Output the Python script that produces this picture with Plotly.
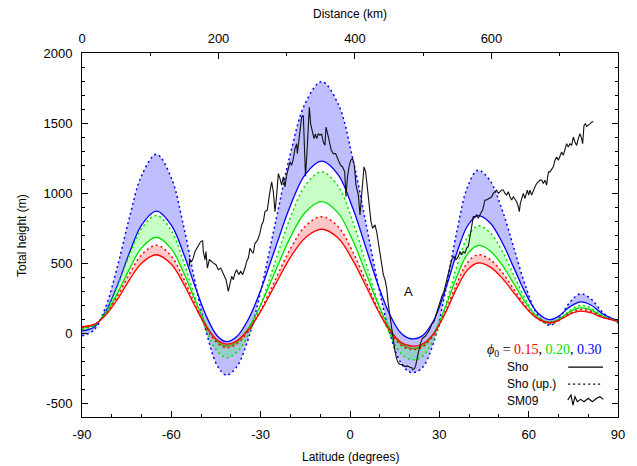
import plotly.graph_objects as go

# ---------------- data ----------------
lat = [-90, -86, -82, -78, -74, -70, -65, -60, -56, -52, -48, -44.5, -41.5, -38, -34, -30, -25, -20, -15, -9.5,
       -4, 1, 5.5, 9.5, 13, 17, 20.5, 24, 28, 32, 36, 39.5, 43, 47, 51, 55, 59, 63, 67, 70, 74, 77.5, 81, 85, 90]

sho_015 = [45, 61, 128, 244, 382, 499, 559, 491, 356, 189, 37, -52, -79, -55, 27, 155, 349, 540, 681, 741,
           678, 517, 328, 157, 31, -65, -93, -82, -8, 142, 326, 451, 500, 472, 394, 288, 181, 103, 75, 90, 136, 156, 143, 109, 85]
up_015 = [40, 58, 135, 268, 424, 558, 627, 549, 394, 202, 28, -74, -105, -78, 16, 162, 384, 602, 763, 831,
          759, 577, 362, 167, 24, -85, -117, -104, -20, 151, 360, 504, 559, 526, 436, 314, 191, 101, 68, 87, 143, 168, 153, 112, 83]
sho_020 = [35, 55, 139, 287, 460, 608, 684, 601, 437, 233, 48, -60, -93, -63, 40, 201, 445, 685, 863, 938,
           858, 657, 419, 204, 46, -74, -110, -96, -4, 182, 409, 565, 625, 588, 488, 352, 215, 115, 78, 97, 155, 180, 163, 118, 85]
up_020 = [25, 50, 156, 341, 559, 745, 840, 731, 517, 251, 9, -133, -176, -138, -5, 202, 517, 826, 1054, 1151,
          1049, 792, 487, 212, 10, -144, -190, -172, -52, 189, 484, 687, 765, 718, 589, 414, 238, 109, 62, 88, 164, 198, 177, 121, 80]
sho_030 = [15, 42, 153, 347, 576, 771, 871, 771, 574, 330, 108, -23, -62, -25, 104, 305, 611, 911, 1133, 1227,
           1131, 887, 599, 339, 148, 2, -41, -24, 86, 308, 580, 766, 838, 788, 652, 467, 281, 145, 95, 119, 190, 222, 198, 134, 88]
up_030 = [-20, 20, 189, 483, 829, 1124, 1276, 1107, 775, 361, -14, -235, -301, -240, -31, 296, 793, 1281, 1642, 1795,
          1637, 1238, 767, 341, 27, -211, -282, -255, -74, 292, 738, 1045, 1163, 1089, 886, 609, 332, 129, 55, 98, 224, 280, 242, 144, 72]

sm09_lat = [-53.95, -53.85, -53.4, -52.84, -52.05, -50.93, -50.15, -49.48, -49.26, -48.70, -48.36, -47.91, -47.24, -46.46,
            -45.90, -45.00, -44.22, -43.43, -42.54, -41.64, -40.86, -40.30, -39.74, -39.18, -38.62, -38.06, -37.39,
            -36.72, -36.05, -35.27, -34.70, -34.14, -33.58, -33.03, -32.47, -31.91, -31.35, -30.79, -30.23, -29.67,
            -29.11, -28.55, -27.77, -27.09, -26.31, -25.75, -25.19, -24.63, -24.07, -23.51, -22.95, -22.39, -21.83,
            -21.27, -20.71, -20.15, -19.59, -19.03, -18.47, -17.91, -17.69, -17.35, -16.79, -16.24, -15.68, -15.34,
            -14.95, -14.44, -13.99, -13.66, -13.21, -12.54, -12.09, -11.64, -11.20, -10.64, -10.08, -9.52, -8.96,
            -8.40, -8.06, -7.50, -6.94, -6.27, -5.60, -4.82, -3.92, -3.14, -2.47, -1.79, -1.35, -0.90, -0.34, 0.22,
            0.89, 1.45, 2.01, 2.80, 3.36, 3.80, 4.25, 4.70, 5.26, 5.93, 6.49, 7.05, 7.61, 8.39, 8.95, 9.51, 10.07,
            10.63, 11.19, 11.75, 12.31, 12.87, 13.43, 13.99, 14.55, 15.11, 15.67, 16.23, 16.79, 17.68, 18.47, 19.25,
            20.15, 20.71, 21.04, 21.60, 22.05, 22.38, 22.94, 23.73, 24.40, 25.18, 25.74, 26.64, 27.42, 28.20, 29.10,
            30.0, 30.8, 31.6, 32.5, 33.4, 34.14, 34.92, 35.59, 36.38, 36.94, 37.50, 38.06, 38.62, 39.17, 39.73,
            40.07, 40.52, 40.97, 41.41, 41.97, 42.53, 43.09, 43.43, 43.88, 44.55, 45.00, 45.33, 45.89, 46.79, 47.57,
            48.13, 48.69, 49.25, 49.81, 50.37, 50.93, 51.49, 52.05, 52.61, 53.17, 53.73, 54.29, 54.85, 55.41, 55.96,
            56.52, 56.86, 57.20, 57.64, 58.20, 58.76, 59.10, 59.55, 60.00, 60.44, 61.00, 61.56, 62.12, 62.68, 63.24,
            63.80, 64.36, 64.92, 65.48, 66.04, 66.37, 66.71, 67.16, 67.72, 68.28, 68.84, 69.40, 69.96, 70.52, 71.08,
            71.64, 72.19, 72.75, 73.31, 73.87, 74.43, 74.99, 75.55, 76.11, 76.67, 77.23, 77.79, 78.13, 78.58, 79.02,
            79.47, 80.03, 80.59, 81.15, 81.71]
sm09_h = [475, 530, 505, 523, 582, 630, 653, 658, 582, 523, 582, 464, 523, 511,
          499, 488, 452, 464, 417, 381, 298, 346, 405, 381, 428, 452, 417,
          440, 417, 464, 511, 535, 606, 582, 570, 642, 653, 677, 713, 772,
          796, 867, 878, 985, 1080, 1009, 867, 985, 1139, 1103, 1056, 1115, 1044,
          1127, 1186, 1222, 1198, 1246, 1317, 1352, 1281, 1340, 1435, 1542, 1554, 1388,
          1120, 1293, 1554, 1613, 1494, 1412, 1388, 1423, 1388, 1423, 1412, 1423, 1364,
          1341, 1471, 1423, 1364, 1305, 1281, 1281, 1234, 1198, 1187, 1151, 973, 1104, 1187, 1234,
          1246, 1198, 1056, 985, 843, 961, 1127, 1187, 1151, 1033, 938, 796, 748, 772, 725, 654, 582,
          488, 417, 381, 322, 203, 120, 20, -50, -130, -185, -215, -225, -225, -240, -235,
          -245, -247, -262, -255, -235, -195, -140, -70, -36, -25, -10, 20, 61, 80, 145,
          210, 260, 300, 380, 460, 523, 547, 523, 547, 582, 559, 582, 571, 606, 618,
          665, 736, 784, 831, 831, 843, 819, 836, 855, 878, 926, 950, 950, 961, 973,
          997, 1009, 1021, 997, 1009, 1021, 1021, 997, 985, 1009, 973, 950, 973, 950, 938,
          902, 867, 926, 961, 997, 961, 997, 1021, 985, 1021, 985, 1021, 1044, 1068, 1080,
          1092, 1092, 1068, 1092, 1056, 1115, 1151, 1151, 1175, 1187, 1234, 1258, 1234, 1269, 1293,
          1269, 1317, 1352, 1329, 1352, 1340, 1400, 1364, 1340, 1388, 1423, 1388, 1352, 1483, 1494,
          1475, 1483, 1494, 1506, 1511]

x_ticks = [-90, -60, -30, 0, 30, 60, 90]
y_ticks = [-500, 0, 500, 1000, 1500, 2000]
dist_ticks = [0, 200, 400, 600]
phi_labels = ["0.15", "0.20", "0.30"]

# ---------------- style ----------------
RED, GREEN, BLUE = "#ff0000", "#00e000", "#0000ff"
FILLS = {"r": "rgba(255,0,0,0.22)", "g": "rgba(0,255,0,0.22)", "b": "rgba(0,0,255,0.25)"}
SANS = "Liberation Sans, Arial, sans-serif"
SERIF = "Liberation Serif, Times New Roman, serif"
DOT = "2px,3px"

fig = go.Figure()

def band(solid, up, color, fill):
    fig.add_trace(go.Scatter(x=lat, y=solid, mode="lines", line=dict(color=color, width=1.3, shape="spline"),
                             showlegend=False, hoverinfo="skip"))
    fig.add_trace(go.Scatter(x=lat, y=up, mode="lines", line=dict(color=color, width=1.5, shape="spline", dash=DOT),
                             fill="tonexty", fillcolor=fill, showlegend=False, hoverinfo="skip"))

band(sho_030, up_030, BLUE, FILLS["b"])
band(sho_020, up_020, GREEN, FILLS["g"])
band(sho_015, up_015, RED, FILLS["r"])

fig.add_trace(go.Scatter(x=sm09_lat, y=sm09_h, mode="lines", line=dict(color="#111111", width=1.1),
                         showlegend=False, hoverinfo="skip"))

# invisible trace to activate the top (distance) axis
fig.add_trace(go.Scatter(x=[0, 785.4], y=[-600, -600], xaxis="x2", mode="lines", line=dict(width=0),
                         opacity=0, showlegend=False, hoverinfo="skip"))

axis_common = dict(showgrid=False, zeroline=False, showline=True, linecolor="black", linewidth=1,
                   ticks="inside", ticklen=6, tickcolor="black", tickwidth=1,
                   tickfont=dict(family=SANS, size=13, color="black"))

fig.update_layout(
    width=637, height=466,
    margin=dict(l=82, r=19, t=53, b=49),
    paper_bgcolor="white", plot_bgcolor="white",
    xaxis=dict(range=[-90, 90], tickvals=x_ticks, ticktext=[str(v) for v in x_ticks], mirror=False,
               minor=dict(dtick=10, ticks="inside", ticklen=3, tickcolor="black"),
               ticklabelstandoff=5, **axis_common),
    xaxis2=dict(range=[0, 785.4], overlaying="x", side="top", tickvals=dist_ticks,
                ticktext=[str(v) for v in dist_ticks], anchor="y",
                minor=dict(dtick=100, ticks="inside", ticklen=3, tickcolor="black"),
                ticklabelstandoff=4, **axis_common),
    yaxis=dict(range=[-600, 2000], tickvals=y_ticks, ticktext=[str(v) for v in y_ticks], mirror="ticks",
               minor=dict(dtick=100, ticks="inside", ticklen=3, tickcolor="black"),
               ticklabelstandoff=6, **axis_common),
)

# axis titles
fig.add_annotation(text="Latitude (degrees)", xref="paper", yref="paper", x=0.5, y=-0.11, yanchor="middle",
                   showarrow=False, font=dict(family=SANS, size=12, color="black"))
fig.add_annotation(text="Distance (km)", xref="paper", yref="paper", x=0.5, y=1.108, yanchor="middle",
                   showarrow=False, font=dict(family=SANS, size=12, color="black"))
fig.add_annotation(text="Total height (m)", xref="paper", yref="paper", x=-0.112, y=0.5, textangle=-90,
                   xanchor="center", yanchor="middle", showarrow=False, font=dict(family=SANS, size=12, color="black"))

# label A
fig.add_annotation(text="A", x=19.5, y=296, xref="x", yref="y", showarrow=False,
                   font=dict(family=SANS, size=13, color="black"))

# custom legend
phi_text = ("<i>ϕ</i><sub>0</sub> = "
            f"<span style='color:{RED}'>{phi_labels[0]}</span>, "
            f"<span style='color:{GREEN}'>{phi_labels[1]}</span>, "
            f"<span style='color:{BLUE}'>{phi_labels[2]}</span>")
fig.add_annotation(text=phi_text, xref="paper", yref="paper", x=0.973, y=0.184, xanchor="right", yanchor="middle",
                   showarrow=False, font=dict(family=SERIF, size=14, color="black"))
for label, yy in [("Sho", 0.137), ("Sho (up.)", 0.0905), ("SM09", 0.0439)]:
    fig.add_annotation(text=label, xref="paper", yref="paper", x=0.789, y=yy, xanchor="left", yanchor="middle",
                       showarrow=False, font=dict(family=SANS, size=12, color="black"))
fig.add_shape(type="line", xref="paper", yref="paper", x0=0.907, x1=0.972, y0=0.137, y1=0.137,
              line=dict(color="black", width=1.2))
fig.add_shape(type="line", xref="paper", yref="paper", x0=0.907, x1=0.972, y0=0.0905, y1=0.0905,
              line=dict(color="black", width=1.3, dash=DOT))
wig = [(0.9062, 0.0466), (0.9123, 0.0604), (0.9160, 0.0329), (0.9198, 0.0557), (0.9241, 0.0420),
       (0.9304, 0.0486), (0.9366, 0.0420), (0.9446, 0.0513), (0.9521, 0.0420), (0.9603, 0.0513),
       (0.9664, 0.0557), (0.9726, 0.0486)]
path = "M " + " L ".join(f"{a},{b}" for a, b in wig)
fig.add_shape(type="path", xref="paper", yref="paper", path=path, line=dict(color="black", width=1.1))

fig.write_html("out.html", config={"displayModeBar": False},
               post_script="document.body.style.margin='0px';document.body.style.overflow='hidden';")
